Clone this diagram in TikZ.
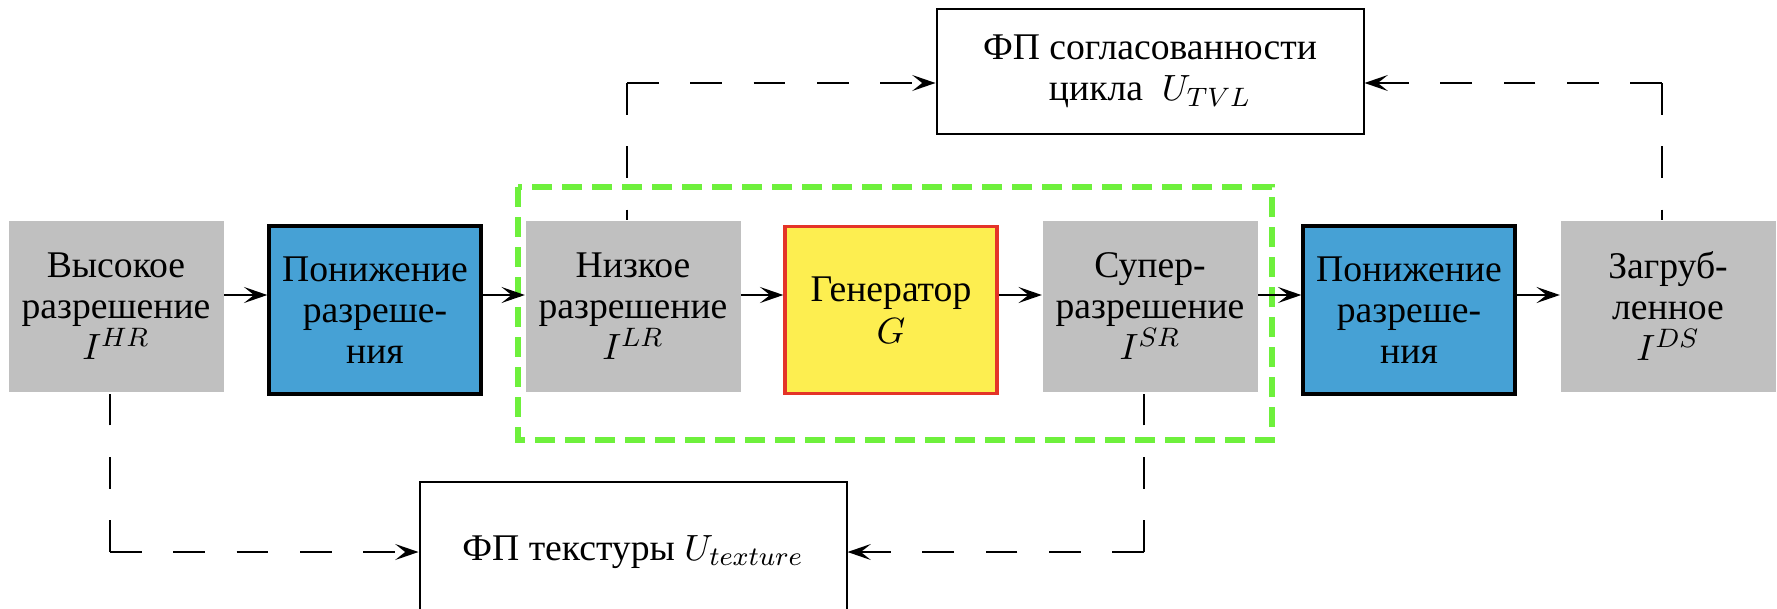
\documentclass[tikz,border=0pt]{standalone}
\usepackage{fontspec}
\setmainfont{Liberation Serif}
\usetikzlibrary{arrows.meta}

\definecolor{boxgray}{RGB}{192,192,192}
\definecolor{downblue}{RGB}{70,161,213}
\definecolor{genyellow}{RGB}{253,238,80}
\definecolor{genred}{RGB}{228,52,40}
\definecolor{framegreen}{RGB}{110,240,60}

\tikzset{
  img/.style={fill=boxgray, minimum width=64.5pt, minimum height=51.3pt, align=center, inner sep=1pt},
  down/.style={fill=downblue, draw=black, line width=1pt, minimum width=63.6pt, minimum height=50.4pt, align=center, inner sep=1pt},
  gen/.style={fill=genyellow, draw=genred, line width=1pt, minimum width=63.6pt, minimum height=50.1pt, align=center},
  loss box/.style={draw=black, line width=0.6pt, minimum width=128.1pt, minimum height=37.5pt, align=center},
  flow/.style={-{Stealth[length=7pt,width=4.8pt,inset=3pt]}, line width=0.6pt},
  fbline/.style={line width=0.6pt, dash pattern=on 9.5pt off 9.5pt},
  fb/.style={flow, fbline}
}

\begin{document}
\begin{tikzpicture}[x=0.3pt, y=-0.3pt, font=\fontsize{11.3}{12.4}\selectfont]
  \useasboundingbox (0,0) rectangle (1777,608);

  % рамка вокруг генератора
  \draw[framegreen, line width=1.6pt, dash pattern=on 6pt off 3pt] (518,187) rectangle (1272,440);

  % основной ряд
  \node[img] (hr) at (116,306) {Высокое\\разрешение\\$I^{HR}$};
  \node[down] (down1) at (375,310) {Понижение\\разреше-\\ния};
  \node[img] (lr) at (633,306) {Низкое\\разрешение\\$I^{LR}$};
  \node[gen] (gen) at (891,310) {Генератор\\$G$};
  \node[img] (sr) at (1150,306) {Супер-\\разрешение\\$I^{SR}$};
  \node[down] (down2) at (1409,310) {Понижение\\разреше-\\ния};
  \node[img] (ds) at (1668,306) {Загруб-\\ленное\\$I^{DS}$};

  % функции потерь
  \node[loss box] (tvl) at (1150,71) {ФП согласованности\\цикла\ \ $U_{TVL}$};
  \node[loss box, minimum height=42pt] (tex) at (633,552) {ФП текстуры $U_{texture}$};

  \coordinate (row) at (0,295);
  \coordinate (top) at (0,83);

  % стрелки
  \foreach \a/\b in {hr/down1,down1/lr,lr/gen,gen/sr,sr/down2,down2/ds}
    \draw[flow] (\a.east |- row) -- (\b.west |- row);

  % углы пунктирных связей
  \coordinate (c1) at ([xshift=-1.8pt]hr.south |- tex.west);
  \coordinate (c2) at ([xshift=-1.8pt]sr.south |- tex.east);
  \coordinate (c3) at ([xshift=-1.8pt]lr.north |- top);
  \coordinate (c4) at ([xshift=-1.8pt]ds.north |- top);

  \draw[fbline] (c1) -- ([xshift=-1.8pt]hr.south);
  \draw[fb] (c1) -- (tex.west);
  \draw[fbline] (c2) -- ([xshift=-1.8pt]sr.south);
  \draw[fb] (c2) -- (tex.east);
  \draw[fbline] (c3) -- ([xshift=-1.8pt]lr.north);
  \draw[fb] (c3) -- (tvl.west |- top);
  \draw[fbline] (c4) -- ([xshift=-1.8pt]ds.north);
  \draw[fb] (c4) -- (tvl.east |- top);
\end{tikzpicture}
\end{document}
